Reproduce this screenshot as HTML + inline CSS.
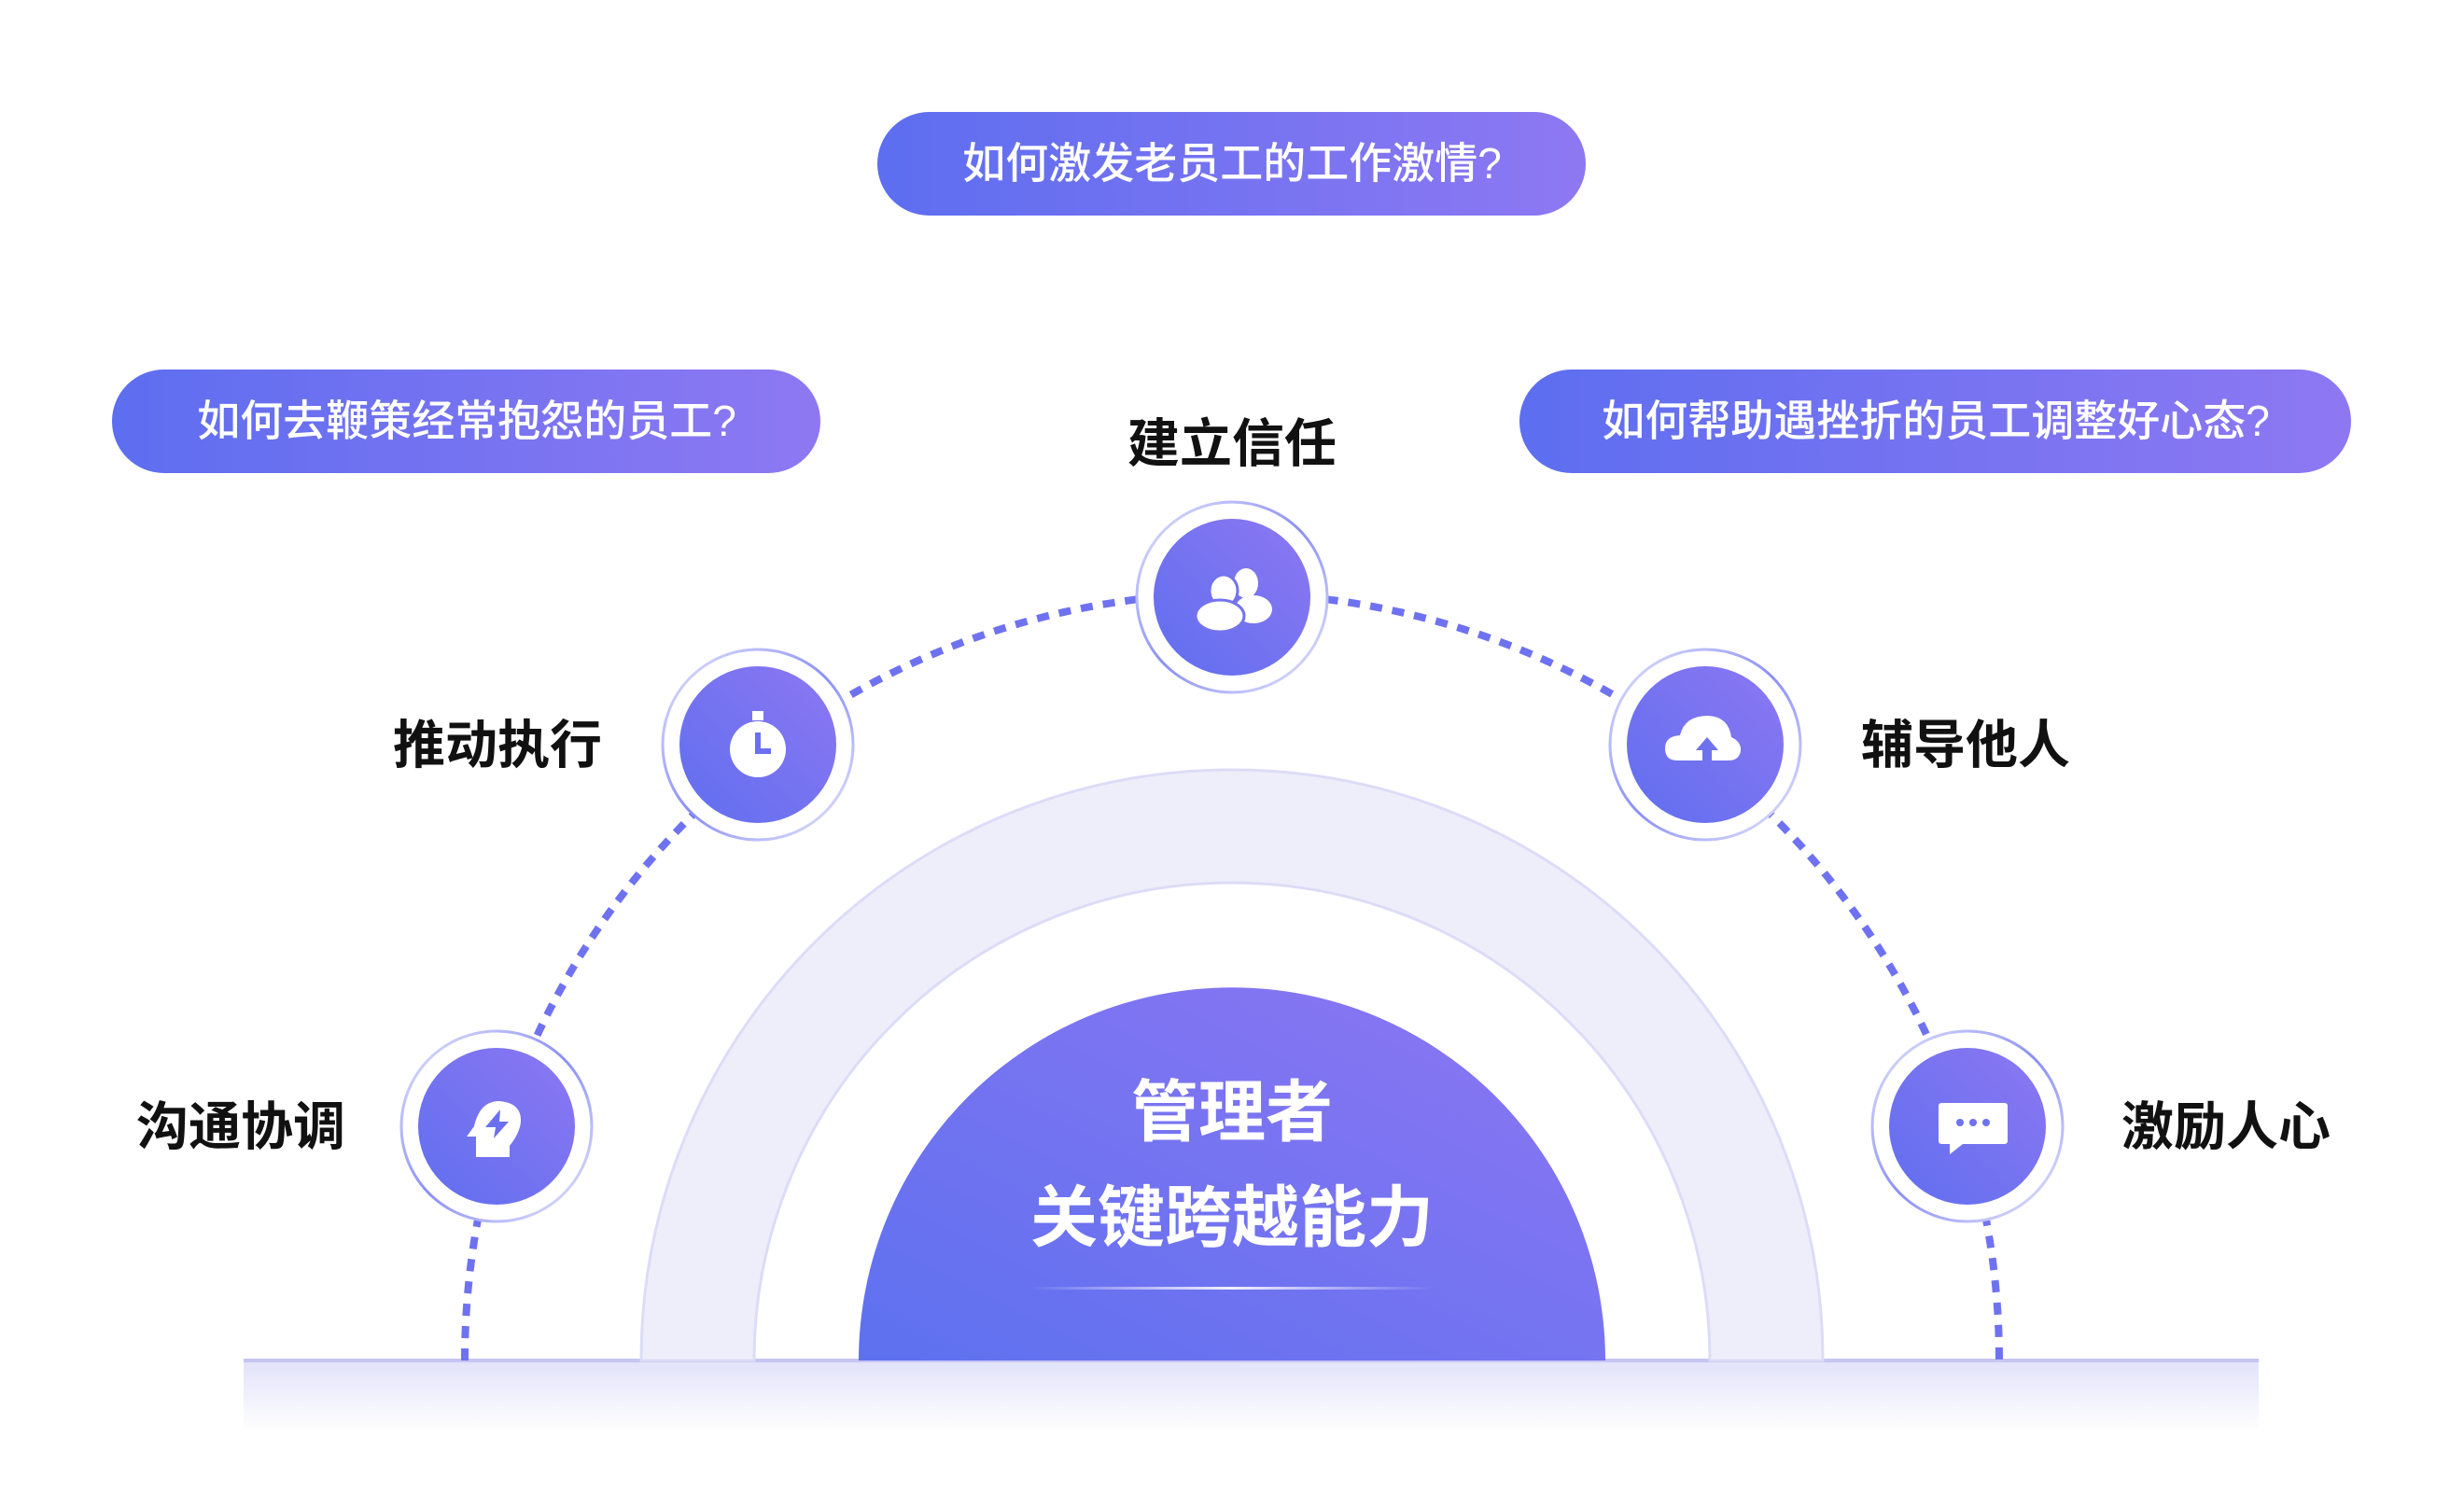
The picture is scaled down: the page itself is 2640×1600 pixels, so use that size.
<!DOCTYPE html>
<html><head><meta charset="utf-8"><style>
html,body{margin:0;padding:0;background:#fff}
svg{display:block}
text{font-family:"Liberation Sans","Noto Sans CJK SC",sans-serif}
</style></head><body>
<svg width="2640" height="1600" viewBox="0 0 2640 1600" xmlns="http://www.w3.org/2000/svg">
<defs>
<linearGradient id="pill" x1="0" y1="0" x2="1" y2="0"><stop offset="0" stop-color="#5d6ef0"/><stop offset="1" stop-color="#8e78f2"/></linearGradient>
<linearGradient id="node" x1="0" y1="1" x2="1" y2="0"><stop offset="0" stop-color="#5f6fef"/><stop offset="1" stop-color="#8d77f2"/></linearGradient>
<linearGradient id="ring" x1="0" y1="0" x2="1" y2="1"><stop offset="0" stop-color="#e4e6fd"/><stop offset="0.5" stop-color="#8a8ff4"/><stop offset="1" stop-color="#e8e9fd"/></linearGradient>
<linearGradient id="half" x1="0" y1="1" x2="1" y2="0"><stop offset="0" stop-color="#5d71ef"/><stop offset="1" stop-color="#8e76f3"/></linearGradient>
<linearGradient id="band" x1="0" y1="0" x2="0" y2="1"><stop offset="0" stop-color="#e2e2fa"/><stop offset="1" stop-color="#ffffff"/></linearGradient>
<linearGradient id="uline" x1="0" y1="0" x2="1" y2="0"><stop offset="0" stop-color="#fff" stop-opacity="0"/><stop offset="0.5" stop-color="#fff" stop-opacity="0.9"/><stop offset="1" stop-color="#fff" stop-opacity="0"/></linearGradient>
</defs>

<!-- pills -->
<g font-size="46" font-weight="500" fill="#fff" text-anchor="middle">
<rect x="940" y="120" width="759" height="111" rx="55.5" fill="url(#pill)"/>
<text x="1320" y="191">如何激发老员工的工作激情?</text>
<rect x="120" y="396" width="759" height="111" rx="55.5" fill="url(#pill)"/>
<text x="500" y="467">如何去鞭策经常抱怨的员工?</text>
<rect x="1628" y="396" width="891" height="111" rx="55.5" fill="url(#pill)"/>
<text x="2074" y="467">如何帮助遇挫折的员工调整好心态?</text>
</g>

<!-- band -->
<rect x="261" y="1458" width="2159" height="76" fill="url(#band)"/>
<line x1="261" y1="1458" x2="2420" y2="1458" stroke="#c5c5f4" stroke-width="4"/>

<!-- big light arc -->
<path d="M687 1458 A633 633 0 0 1 1953 1458 L1832 1458 A512 512 0 0 0 808 1458 Z" fill="#eeeefb" stroke="#dcdcf8" stroke-width="3"/>

<!-- center half -->
<path d="M920 1458 A400 400 0 0 1 1720 1458 Z" fill="url(#half)"/>
<text x="1320" y="1217" font-size="72" font-weight="bold" fill="#fff" text-anchor="middle">管理者</text>
<text x="1320" y="1330" font-size="72" font-weight="bold" fill="#fff" text-anchor="middle">关键跨越能力</text>
<rect x="1103" y="1379" width="433" height="3" fill="url(#uline)"/>

<!-- dotted arc -->
<path d="M498 1458 A822 822 0 0 1 2142 1458" fill="none" stroke="#6f72f0" stroke-width="8" stroke-dasharray="13 11"/>

<!-- nodes -->
<g>
<circle cx="532" cy="1207" r="102" fill="#fff" stroke="url(#ring)" stroke-width="3"/>
<circle cx="532" cy="1207" r="84" fill="url(#node)"/>
<path d="M510 1240 L510 1218 L500 1218 L508 1207 Q514 1180 535 1180 Q559 1182 558 1202 Q557 1214 546 1228 L546 1240 Z" fill="#fff"/>
<path d="M536 1189 L520 1208 L531 1208 L529 1220 L545 1202 L535 1202 Z" fill="#6b70ef"/>
</g>
<g>
<circle cx="812" cy="798" r="102" fill="#fff" stroke="url(#ring)" stroke-width="3"/>
<circle cx="812" cy="798" r="84" fill="url(#node)"/>
<rect x="806" y="762" width="12" height="10" fill="#fff"/>
<circle cx="812" cy="803" r="30" fill="#fff"/>
<path d="M812 785 L812 805 L826 805" stroke="#6c70ef" stroke-width="6" fill="none"/>
</g>
<g>
<circle cx="1320" cy="640" r="102" fill="#fff" stroke="url(#ring)" stroke-width="3"/>
<circle cx="1320" cy="640" r="84" fill="url(#node)"/>
<ellipse cx="1335" cy="625" rx="13" ry="16" fill="#fff"/>
<ellipse cx="1343" cy="653" rx="20" ry="15" fill="#fff"/>
<ellipse cx="1311" cy="633" rx="15" ry="17" fill="#fff" stroke="#7373ef" stroke-width="3"/>
<ellipse cx="1307" cy="660" rx="26" ry="17" fill="#fff" stroke="#7373ef" stroke-width="3"/>
</g>
<g>
<circle cx="1827" cy="798" r="102" fill="#fff" stroke="url(#ring)" stroke-width="3"/>
<circle cx="1827" cy="798" r="84" fill="url(#node)"/>
<path d="M1797 815 Q1784 815 1784 802 Q1784 789 1800 788 Q1805 767 1830 767 Q1852 768 1855 790 Q1866 795 1865 805 Q1863 815 1852 815 Z" fill="#fff"/>
<path d="M1829 790 L1817 804 L1824 804 L1824 815 L1834 815 L1834 804 L1841 804 Z" fill="#6e72ef"/>
</g>
<g>
<circle cx="2108" cy="1207" r="102" fill="#fff" stroke="url(#ring)" stroke-width="3"/>
<circle cx="2108" cy="1207" r="84" fill="url(#node)"/>
<path d="M2080 1182 h68 a3 3 0 0 1 3 3 v38 a3 3 0 0 1 -3 3 h-45 l-14 11 v-11 h-9 a3 3 0 0 1 -3 -3 v-38 a3 3 0 0 1 3 -3 z" fill="#fff"/>
<circle cx="2100" cy="1203" r="4" fill="#6e72ef"/><circle cx="2114" cy="1203" r="4" fill="#6e72ef"/><circle cx="2128" cy="1203" r="4" fill="#6e72ef"/>
</g>

<!-- labels -->
<g font-size="56" font-weight="bold" fill="#111">
<text x="1320" y="495" text-anchor="middle">建立信任</text>
<text x="645" y="818" text-anchor="end">推动执行</text>
<text x="146" y="1227">沟通协调</text>
<text x="1994" y="818">辅导他人</text>
<text x="2273" y="1227">激励人心</text>
</g>
</svg>
</body></html>
